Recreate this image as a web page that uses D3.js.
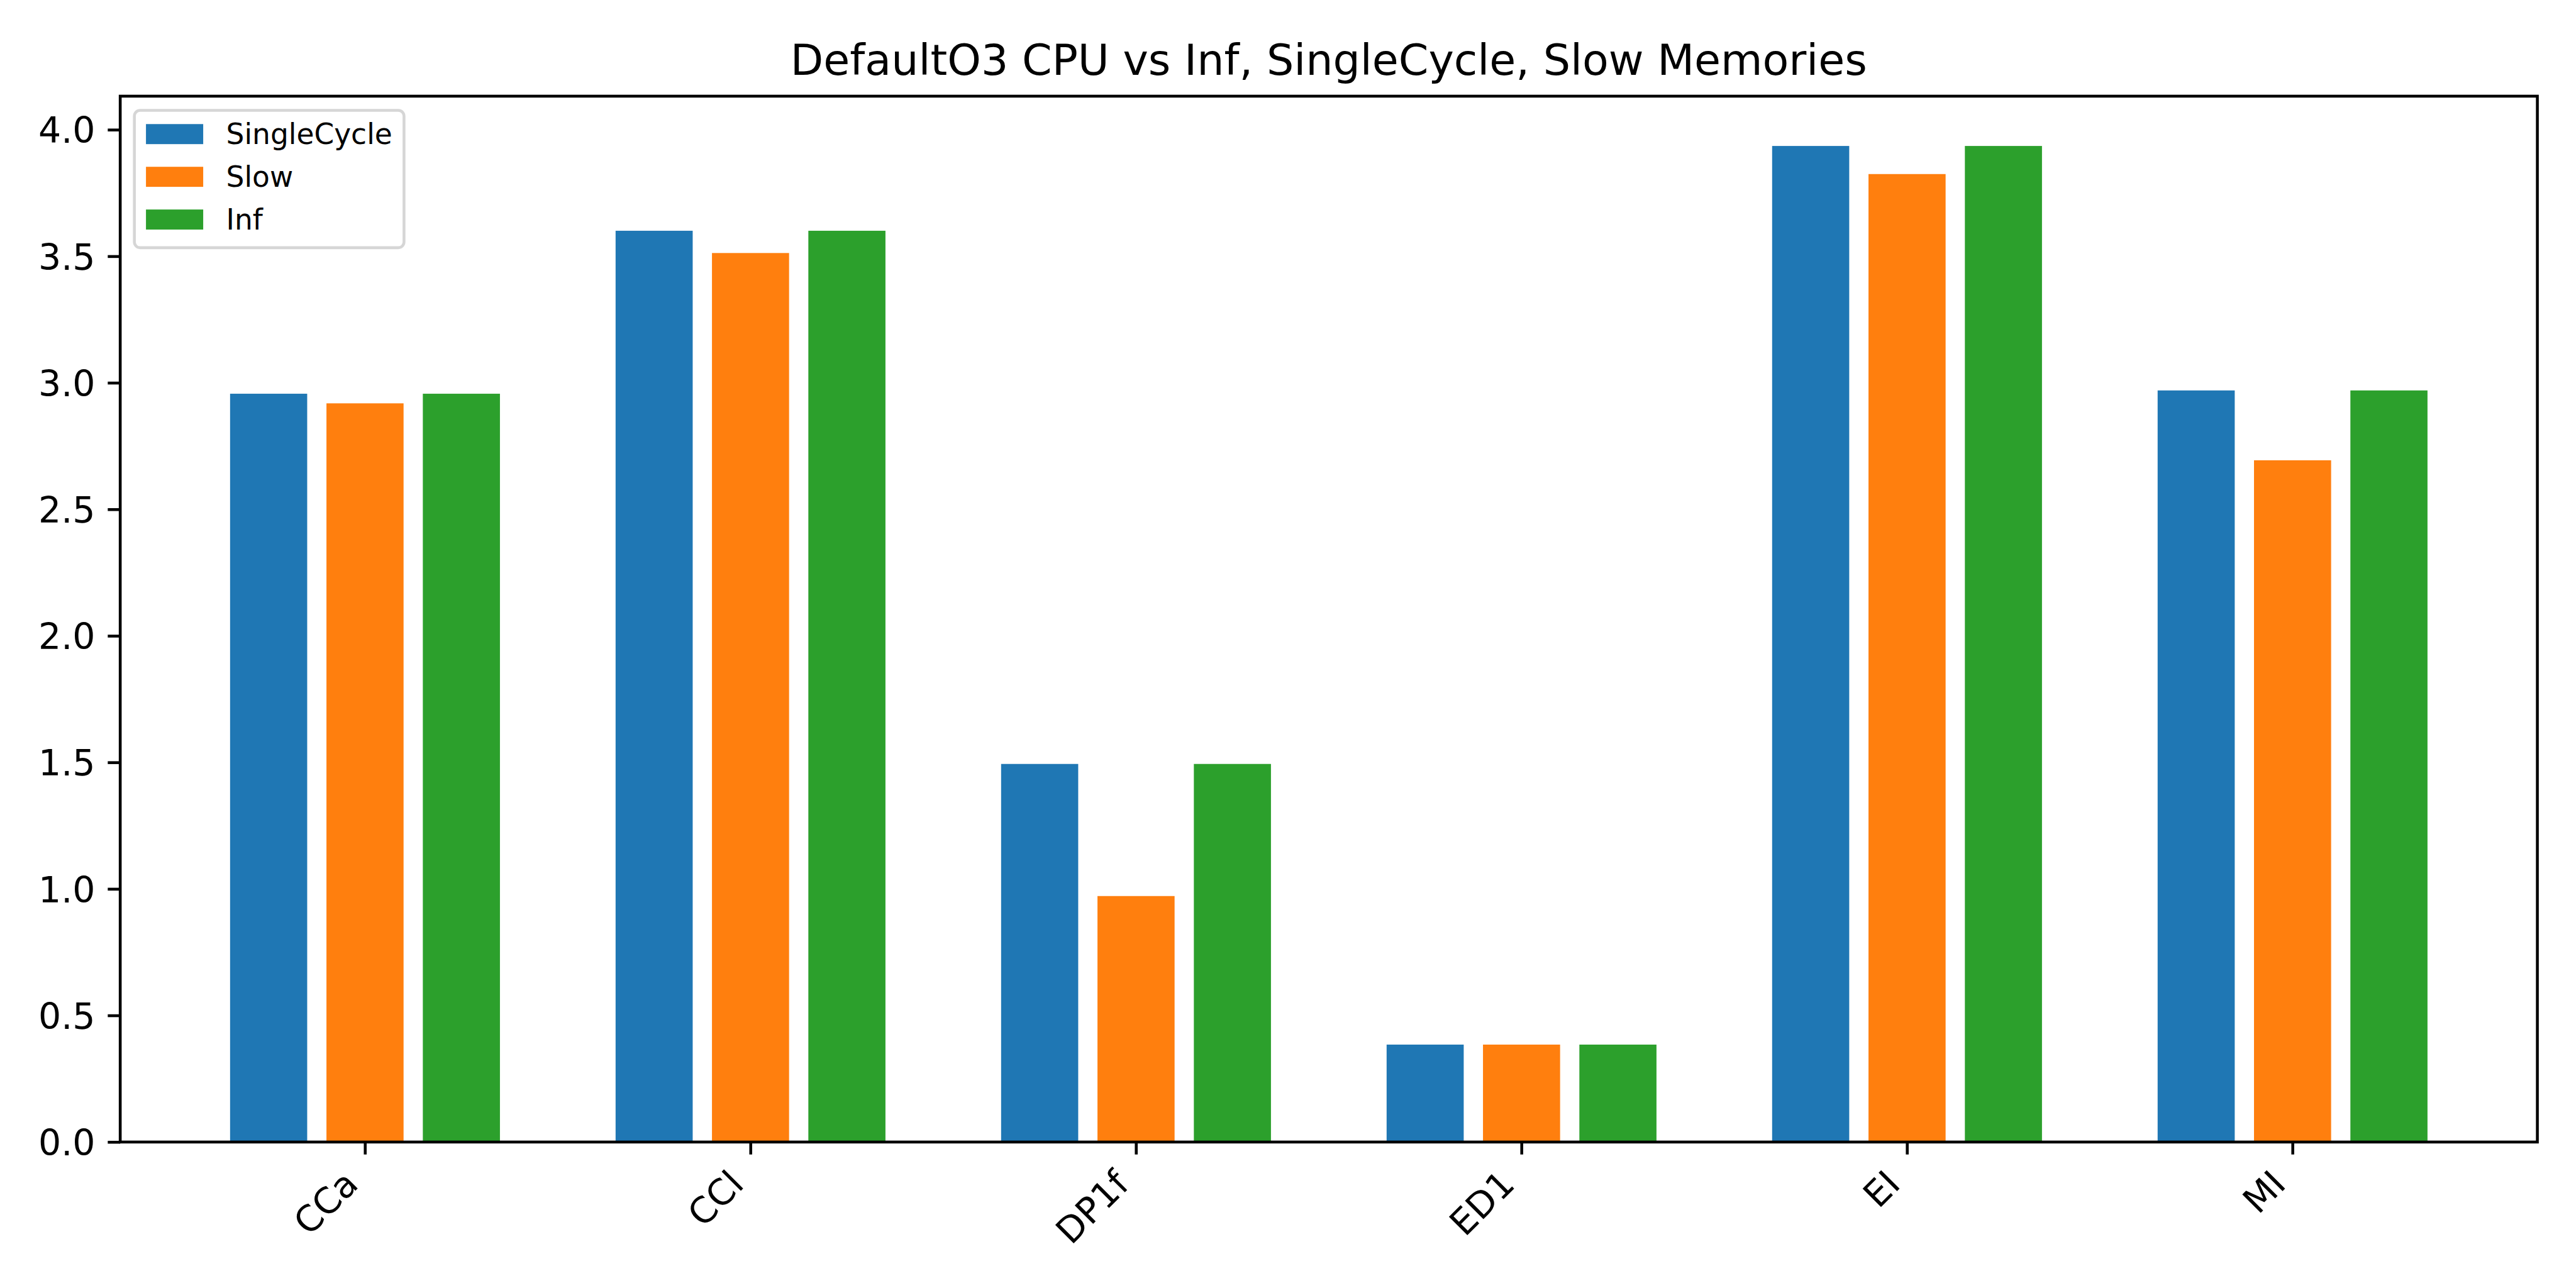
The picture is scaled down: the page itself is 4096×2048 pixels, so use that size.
<!DOCTYPE html>
<html>
<head>
<meta charset="utf-8">
<script src="https://cdn.jsdelivr.net/npm/d3@7"></script>
<style>
  html, body { margin: 0; padding: 0; background: #fff; }
  svg { display: block; }
  text { font-family: "DejaVu Sans", sans-serif; fill: #000; }
</style>
</head>
<body>
<div id="chart"></div>
<script>
// ---- data ----
const categories = ["CCa", "CCl", "DP1f", "ED1", "EI", "MI"];
const seriesNames = ["SingleCycle", "Slow", "Inf"];
const singleCycle = [2.957, 3.601, 1.494, 0.385, 3.936, 2.970];
const slow        = [2.919, 3.513, 0.972, 0.385, 3.825, 2.694];
const inf         = [2.957, 3.601, 1.494, 0.385, 3.936, 2.970];
const yTicks = [0.0, 0.5, 1.0, 1.5, 2.0, 2.5, 3.0, 3.5, 4.0];
const titleText = "DefaultO3 CPU vs Inf, SingleCycle, Slow Memories";

(function () {
const seriesValues = [singleCycle, slow, inf];
const colors = ["#1f77b4", "#ff7f0e", "#2ca02c"];
const offsets = [-0.25, 0, 0.25];
const barW = 0.2;

// ---- layout (reference pixel units, scaled via viewBox) ----
const W = 6000, H = 3000;
const pLeft = 280, pRight = 5910, pTop = 224, pBottom = 2660;
const lw = 6.67;          // 0.8pt @600dpi
const tickLen = 29, tickPad = 29;
const tickFont = 83.33, titleFont = 100, legendFont = 66.67;

const svg = d3.select("#chart").append("svg")
  .attr("width", 4096).attr("height", 2048)
  .attr("viewBox", `0 0 ${W} ${H}`);

svg.append("rect").attr("width", W).attr("height", H).attr("fill", "#fff");

const ymax = d3.max(seriesValues.flat()) * 1.05;
const y = d3.scaleLinear().domain([0, ymax]).range([pBottom, pTop]);
const xmin = -0.25 - barW / 2, xmaxd = categories.length - 1 + 0.25 + barW / 2;
const xm = (xmaxd - xmin) * 0.05;
const x = d3.scaleLinear().domain([xmin - xm, xmaxd + xm]).range([pLeft, pRight]);

// bars
seriesValues.forEach((vals, s) => {
  svg.append("g").selectAll("rect").data(vals).join("rect")
    .attr("x", (d, i) => x(i + offsets[s] - barW / 2))
    .attr("width", x(barW) - x(0))
    .attr("y", d => y(d))
    .attr("height", d => y(0) - y(d))
    .attr("fill", colors[s]);
});

// y axis
const yAxis = svg.append("g").attr("transform", `translate(${pLeft},0)`)
  .call(d3.axisLeft(y).tickValues(yTicks).tickFormat(d3.format(".1f"))
    .tickSize(tickLen).tickPadding(tickPad).tickSizeOuter(0));
yAxis.select(".domain").remove();
yAxis.selectAll(".tick line").attr("stroke", "#000").attr("stroke-width", lw);
yAxis.selectAll(".tick text").attr("font-size", tickFont)
  .attr("font-family", "DejaVu Sans").attr("dy", null)
  .attr("y", 0.3645 * tickFont);

// x axis
const lx = -0.208 * tickFont * Math.SQRT1_2;
const ly = tickLen + tickPad + 0.76 * tickFont * Math.SQRT1_2;
const xAxis = svg.append("g").attr("transform", `translate(0,${pBottom})`)
  .call(d3.axisBottom(x).tickValues(d3.range(categories.length))
    .tickFormat(i => categories[i]).tickSize(tickLen).tickPadding(tickPad).tickSizeOuter(0));
xAxis.select(".domain").remove();
xAxis.selectAll(".tick line").attr("stroke", "#000").attr("stroke-width", lw);
xAxis.selectAll(".tick text").attr("font-size", tickFont)
  .attr("font-family", "DejaVu Sans")
  .attr("dy", null).attr("x", lx).attr("y", ly)
  .attr("text-anchor", "end")
  .attr("transform", `rotate(-45 ${lx} ${ly})`);

// spines
svg.append("rect").attr("x", pLeft).attr("y", pTop)
  .attr("width", pRight - pLeft).attr("height", pBottom - pTop)
  .attr("fill", "none").attr("stroke", "#000").attr("stroke-width", lw)
  .attr("stroke-linejoin", "miter");

// title
svg.append("text").attr("x", (pLeft + pRight) / 2).attr("y", 174)
  .attr("text-anchor", "middle").attr("font-size", titleFont)
  .text(titleText);

// legend
const lg = svg.append("g");
lg.append("rect").attr("x", 313).attr("y", 257).attr("width", 628).attr("height", 320)
  .attr("rx", 13.3).attr("ry", 13.3)
  .attr("fill", "#fff").attr("fill-opacity", 0.8)
  .attr("stroke", "#d6d6d6").attr("stroke-width", lw);
const rowY = [289, 388.5, 488];
seriesNames.forEach((name, i) => {
  lg.append("rect").attr("x", 340).attr("y", rowY[i])
    .attr("width", 133.3).attr("height", 46.7).attr("fill", colors[i]);
  lg.append("text").attr("x", 526.7).attr("y", rowY[i] + 46.7)
    .attr("font-size", legendFont).text(name);
});
})();
</script>
</body>
</html>
